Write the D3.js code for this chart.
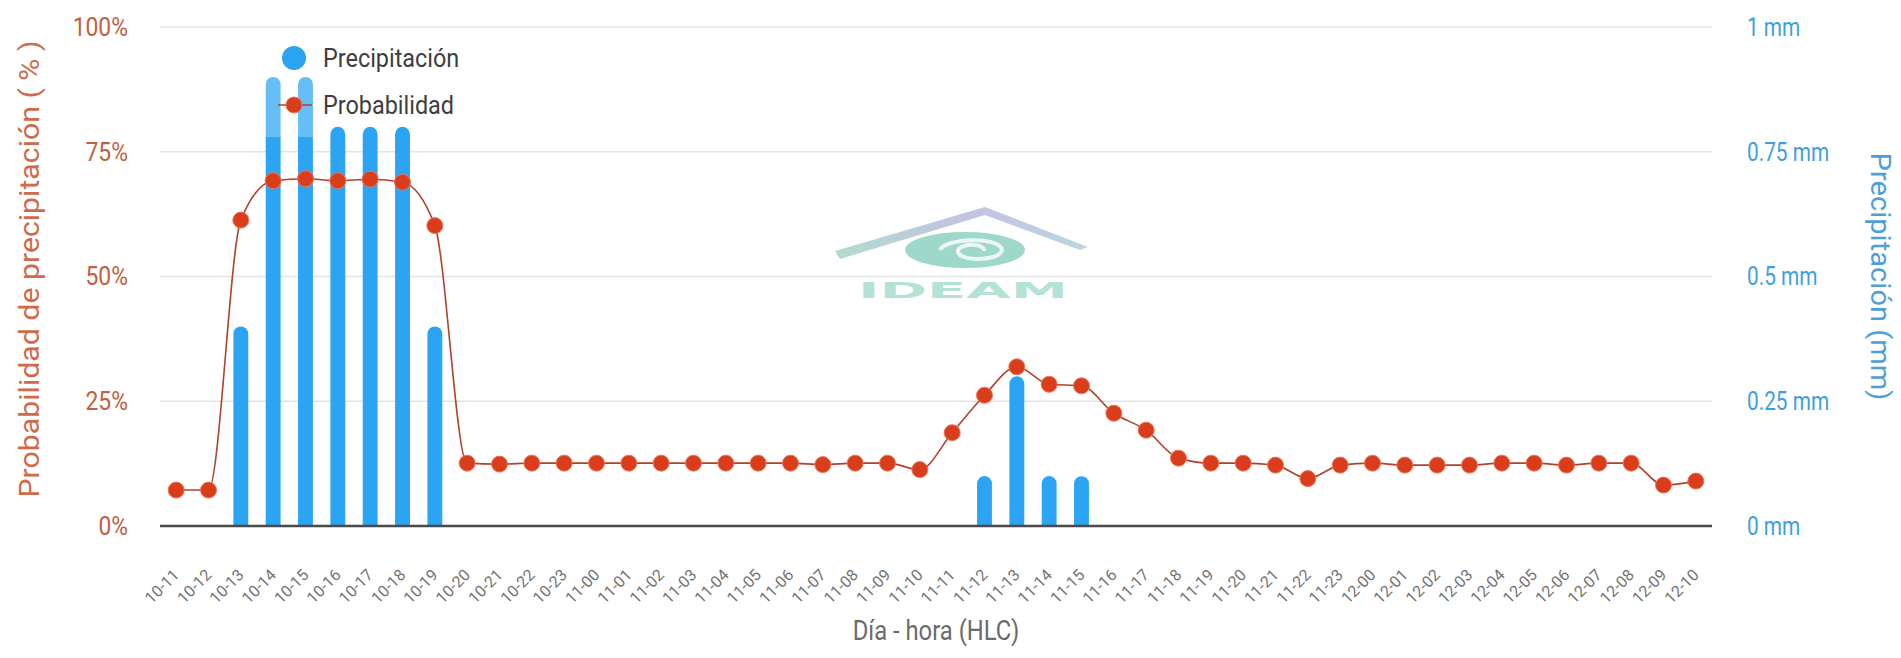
<!DOCTYPE html>
<html>
<head>
<meta charset="utf-8">
<script src="https://cdn.jsdelivr.net/npm/d3@7"></script>
<style>
  html, body { margin: 0; padding: 0; background: #fff; }
  svg { display: block; font-family: Roboto, "Noto Sans", sans-serif; }
</style>
</head>
<body>
<svg id="chart" width="1901" height="658"></svg>
<script>
// Día-hora categories (HLC)
const categories = [
  '10-11', '10-12', '10-13', '10-14', '10-15', '10-16', '10-17', '10-18', '10-19', '10-20', '10-21', '10-22', '10-23',
  '11-00', '11-01', '11-02', '11-03', '11-04', '11-05', '11-06', '11-07', '11-08', '11-09', '11-10', '11-11',
  '11-12', '11-13', '11-14', '11-15', '11-16', '11-17', '11-18', '11-19', '11-20', '11-21', '11-22', '11-23',
  '12-00', '12-01', '12-02', '12-03', '12-04', '12-05', '12-06', '12-07', '12-08', '12-09', '12-10'
];

// Probabilidad de precipitación (%)
const probability = [
  7.2, 7.2, 61.3, 69.2, 69.6, 69.2, 69.5, 68.9, 60.2, 12.6, 12.4, 12.6, 12.6,
  12.6, 12.6, 12.6, 12.6, 12.6, 12.6, 12.6, 12.3, 12.6, 12.6, 11.3, 18.7,
  26.2, 31.9, 28.4, 28.1, 22.6, 19.2, 13.6, 12.6, 12.6, 12.2, 9.5, 12.2,
  12.6, 12.2, 12.2, 12.2, 12.6, 12.6, 12.2, 12.6, 12.6, 8.2, 9.0
];

// Precipitación (mm)
const precipitation = [
  0, 0, 0.4, 0.9, 0.9, 0.8, 0.8, 0.8, 0.4, 0, 0, 0, 0,
  0, 0, 0, 0, 0, 0, 0, 0, 0, 0, 0, 0,
  0.1, 0.3, 0.1, 0.1, 0, 0, 0, 0, 0, 0, 0, 0,
  0, 0, 0, 0, 0, 0, 0, 0, 0, 0, 0
];

const pctTicks = [0, 25, 50, 75, 100];
const mmTicks = [0, 0.25, 0.5, 0.75, 1];

const plot = { left: 160, right: 1712, top: 27, bottom: 526 };

const svg = d3.select('#chart');

const x = d3.scaleBand().domain(categories).range([plot.left, plot.right]);
const yL = d3.scaleLinear().domain([0, 100]).range([plot.bottom, plot.top]);
const yR = d3.scaleLinear().domain([0, 1]).range([plot.bottom, plot.top]);
const cx = d => x(d) + x.bandwidth() / 2;

// squeeze text horizontally, the source font is a narrow one
function narrow(sel, k) {
  sel.each(function () {
    const w = this.getComputedTextLength();
    d3.select(this).attr('textLength', w * k).attr('lengthAdjust', 'spacingAndGlyphs');
  });
}

// --- watermark (IDEAM logo, drawn roughly) ---
const wm = svg.append('g').attr('opacity', 0.8);
const grad = svg.append('defs').append('linearGradient')
  .attr('id', 'roof').attr('x1', '0%').attr('x2', '100%');
grad.append('stop').attr('offset', '0%').attr('stop-color', '#9fd3c6');
grad.append('stop').attr('offset', '55%').attr('stop-color', '#b7b3dc');
grad.append('stop').attr('offset', '100%').attr('stop-color', '#a9cfd6');
wm.append('path')
  .attr('d', 'M835,251 L985,207 L1088,247 L1080,250 L985,215 L840,259 Z')
  .attr('fill', 'url(#roof)');
wm.append('ellipse').attr('cx', 965).attr('cy', 250).attr('rx', 60).attr('ry', 18).attr('fill', '#86cfbd');
wm.append('path')
  .attr('d', 'M940,250 C945,238 1000,236 1002,250 C1000,262 955,262 958,250 C962,243 985,243 984,251')
  .attr('fill', 'none').attr('stroke', '#e8f6f2').attr('stroke-width', 4);
wm.append('text')
  .attr('x', 858).attr('y', 298)
  .attr('textLength', 210).attr('lengthAdjust', 'spacingAndGlyphs')
  .style('font-family', '"DejaVu Sans", sans-serif')
  .style('font-weight', 'bold').style('font-size', '22px')
  .attr('fill', '#a3dbcc')
  .text('IDEAM');

// --- gridlines ---
svg.append('g')
  .selectAll('line')
  .data(pctTicks.filter(d => d > 0))
  .join('line')
  .attr('x1', plot.left).attr('x2', plot.right)
  .attr('y1', d => yL(d)).attr('y2', d => yL(d))
  .attr('stroke', '#e3e3e3').attr('stroke-width', 1.5);

// --- bars (precipitación) with rounded tops ---
const bw = x.bandwidth() * 0.46;
svg.append('g')
  .selectAll('path')
  .data(categories.map((c, i) => ({ c, v: precipitation[i] })).filter(d => d.v > 0))
  .join('path')
  .attr('fill', '#2ba5f3')
  .attr('d', d => {
    const x0 = cx(d.c) - bw / 2, r = bw / 2;
    const top = yR(d.v), base = yR(0);
    return `M${x0},${base} V${top + r} A${r},${r} 0 0 1 ${x0 + bw},${top + r} V${base} Z`;
  });

// --- baseline ---
svg.append('line')
  .attr('x1', plot.left).attr('x2', plot.right)
  .attr('y1', yL(0)).attr('y2', yL(0))
  .attr('stroke', '#4a4a4a').attr('stroke-width', 2.5);

// --- probability line + points ---
const line = d3.line()
  .x((d, i) => cx(categories[i]))
  .y(d => yL(d))
  .curve(d3.curveMonotoneX);

svg.append('path')
  .datum(probability)
  .attr('d', line)
  .attr('fill', 'none')
  .attr('stroke', '#b0412d')
  .attr('stroke-width', 1.6);

svg.append('g')
  .selectAll('circle')
  .data(probability)
  .join('circle')
  .attr('cx', (d, i) => cx(categories[i]))
  .attr('cy', d => yL(d))
  .attr('r', 8)
  .attr('fill', '#d93d1c')
  .attr('stroke', '#ee7455')
  .attr('stroke-width', 1);

// --- left axis ---
const axL = svg.append('g')
  .attr('transform', `translate(${plot.left},0)`)
  .call(d3.axisLeft(yL).tickValues(pctTicks).tickFormat(d => d + '%').tickSize(0).tickPadding(32));
axL.select('.domain').remove();
axL.selectAll('text')
  .attr('fill', '#c55e40')
  .style('font-size', '26px')
  .style('font-family', 'Roboto, sans-serif')
  .call(narrow, 0.88);

// --- right axis ---
const axR = svg.append('g')
  .attr('transform', `translate(${plot.right},0)`)
  .call(d3.axisRight(yR).tickValues(mmTicks).tickFormat(d => d + ' mm').tickSize(0).tickPadding(35));
axR.select('.domain').remove();
axR.selectAll('text')
  .attr('fill', '#3c9fe2')
  .style('font-size', '26px')
  .style('font-family', 'Roboto, sans-serif')
  .call(narrow, 0.8);

// --- bottom axis labels ---
const axB = svg.append('g')
  .attr('transform', `translate(0,${plot.bottom})`)
  .call(d3.axisBottom(x).tickSize(0));
axB.select('.domain').remove();
axB.selectAll('text')
  .attr('fill', '#737373')
  .style('font-size', '16px')
  .style('font-family', 'Roboto, sans-serif')
  .attr('text-anchor', 'end')
  .attr('dy', null)
  .attr('y', 0)
  .attr('transform', 'translate(4,50) rotate(-45)');

// --- axis titles ---
svg.append('text')
  .attr('transform', `translate(39,269) rotate(-90)`)
  .attr('text-anchor', 'middle')
  .attr('fill', '#cf6b4a')
  .style('font-size', '28px')
  .attr('textLength', 457).attr('lengthAdjust', 'spacingAndGlyphs')
  .text('Probabilidad de precipitación ( % )');

svg.append('text')
  .attr('transform', `translate(1871,${(plot.top + plot.bottom) / 2}) rotate(90)`)
  .attr('text-anchor', 'middle')
  .attr('fill', '#4d9fd6')
  .style('font-size', '28px')
  .attr('textLength', 248).attr('lengthAdjust', 'spacingAndGlyphs')
  .text('Precipitación (mm)');

svg.append('text')
  .attr('x', (plot.left + plot.right) / 2)
  .attr('y', 640)
  .attr('text-anchor', 'middle')
  .attr('fill', '#6a6a6a')
  .style('font-size', '28px')
  .text('Día - hora (HLC)')
  .call(narrow, 0.85);

// --- legend ---
const lg = svg.append('g');
// translucent legend background, only the part over the two tallest bars shows
lg.append('rect')
  .attr('x', 262).attr('y', 34).attr('width', 56).attr('height', 103)
  .attr('fill', '#fff').attr('opacity', 0.28);
lg.append('circle').attr('cx', 294).attr('cy', 58).attr('r', 12).attr('fill', '#2ba5f3');
lg.append('line').attr('x1', 278).attr('x2', 312).attr('y1', 105).attr('y2', 105)
  .attr('stroke', '#b0412d').attr('stroke-width', 1.6);
lg.append('circle').attr('cx', 294).attr('cy', 105).attr('r', 8)
  .attr('fill', '#d93d1c').attr('stroke', '#ee7455').attr('stroke-width', 1);
lg.selectAll('text.lbl')
  .data(['Precipitación', 'Probabilidad'])
  .join('text')
  .attr('class', 'lbl')
  .attr('x', 323)
  .attr('y', (d, i) => 58 + i * 47)
  .attr('dy', '0.35em')
  .attr('fill', '#3e3e3e')
  .style('font-size', '26px')
  .text(d => d)
  .call(narrow, 0.9);
</script>
</body>
</html>
